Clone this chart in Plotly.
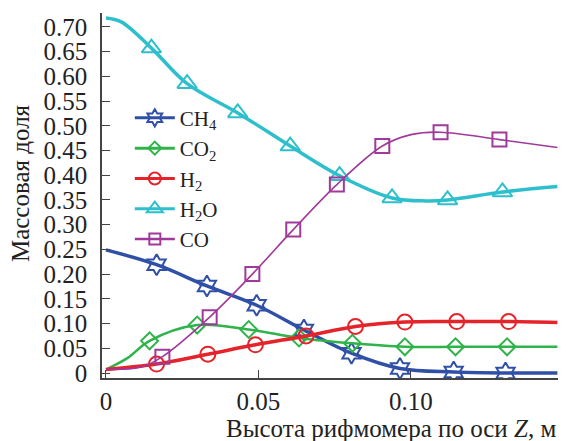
import plotly.graph_objects as go

# ---- data ----
names = ["CH<sub>4</sub>", "CO<sub>2</sub>", "H<sub>2</sub>", "H<sub>2</sub>O", "CO"]

ch4_x = [0, 0.0166, 0.0331, 0.0494, 0.0649, 0.0805, 0.0964, 0.114, 0.131, 0.148]
ch4_y = [0.249, 0.219, 0.176, 0.137, 0.087, 0.040, 0.009, 0.002, 0.0, 0.0]
ch4_mx = [0.0166, 0.0331, 0.0494, 0.0649, 0.0805, 0.0964, 0.114, 0.131]
ch4_my = [0.219, 0.176, 0.137, 0.087, 0.040, 0.009, 0.002, 0.0]

co2_x = [0, 0.007, 0.0143, 0.0299, 0.0468, 0.0633, 0.0808, 0.098, 0.1146, 0.1315, 0.148]
co2_y = [0.007, 0.030, 0.065, 0.097, 0.088, 0.071, 0.060, 0.053, 0.053, 0.053, 0.053]
co2_mx = [0.0143, 0.0299, 0.0468, 0.0633, 0.0808, 0.098, 0.1146, 0.1315]
co2_my = [0.065, 0.097, 0.088, 0.071, 0.060, 0.053, 0.053, 0.053]

h2_x = [0, 0.0166, 0.0334, 0.049, 0.0656, 0.0818, 0.098, 0.115, 0.132, 0.148]
h2_y = [0.007, 0.018, 0.038, 0.057, 0.075, 0.094, 0.103, 0.104, 0.104, 0.102]
h2_mx = [0.0166, 0.0334, 0.049, 0.0656, 0.0818, 0.098, 0.115, 0.132]
h2_my = [0.018, 0.038, 0.057, 0.075, 0.094, 0.103, 0.104, 0.104]

h2o_x = [0, 0.005, 0.0149, 0.0266, 0.0432, 0.0604, 0.0766, 0.0938, 0.105, 0.112, 0.130, 0.148]
h2o_y = [0.718, 0.710, 0.657, 0.585, 0.526, 0.459, 0.399, 0.354, 0.348, 0.350, 0.366, 0.377]
h2o_mx = [0.0149, 0.0266, 0.0432, 0.0604, 0.0766, 0.0938, 0.112, 0.130]
h2o_my = [0.657, 0.585, 0.526, 0.459, 0.399, 0.354, 0.350, 0.366]

co_x = [0, 0.0117, 0.0185, 0.034, 0.048, 0.0614, 0.0757, 0.0906, 0.1, 0.1097, 0.129, 0.148]
co_y = [0.007, 0.012, 0.033, 0.113, 0.200, 0.290, 0.381, 0.459, 0.482, 0.487, 0.472, 0.456]
co_mx = [0.0185, 0.034, 0.048, 0.0614, 0.0757, 0.0906, 0.1097, 0.129]
co_my = [0.033, 0.113, 0.200, 0.290, 0.381, 0.459, 0.487, 0.472]

y_ticks = [0, 0.05, 0.10, 0.15, 0.20, 0.25, 0.30, 0.35, 0.40, 0.45, 0.50, 0.55, 0.60, 0.65, 0.70]
y_labels = ["0", "0.05", "0.10", "0.15", "0.20", "0.25", "0.30", "0.35", "0.40",
            "0.45", "0.50", "0.55", "0.60", "0.65", "0.70"]
x_ticks = [0, 0.05, 0.10]
x_labels = ["0", "0.05", "0.10"]

x_title = "Высота рифмомера по оси <i>Z</i>, м"
y_title = "Массовая доля"

# ---- styles ----
FONT = "Liberation Serif, Times New Roman, serif"
series = [
    (names[0], ch4_x, ch4_y, ch4_mx, ch4_my, "#3050a8", 3.5, "hexagram-open", 16),
    (names[1], co2_x, co2_y, co2_mx, co2_my, "#2fb34a", 2.5, "diamond-open", 13),
    (names[2], h2_x, h2_y, h2_mx, h2_my, "#e4232a", 3.5, "circle-open", 15),
    (names[3], h2o_x, h2o_y, h2o_mx, h2o_my, "#2ebfcc", 3.5, "triangle-up-open", 17),
    (names[4], co_x, co_y, co_mx, co_my, "#a0399a", 1.6, "square-open", 14),
]

fig = go.Figure()
for i, (nm, lx, ly, mx, my, col, lw, sym, ms) in enumerate(series):
    grp = "g%d" % i
    fig.add_trace(go.Scatter(x=lx, y=ly, mode="lines", line=dict(color=col, width=lw, shape="spline", smoothing=1.0),
                             showlegend=False, legendgroup=grp, hoverinfo="skip"))
    fig.add_trace(go.Scatter(x=mx, y=my, mode="markers",
                             marker=dict(symbol=sym, size=ms, color=col, line=dict(color=col, width=2)),
                             showlegend=False, legendgroup=grp))
    fig.add_trace(go.Scatter(x=[None], y=[None], mode="lines+markers", name=nm, legendgroup=grp,
                             line=dict(color=col, width=3 if lw > 2 else 2.5),
                             marker=dict(symbol=sym, size=ms - 3, color=col, line=dict(color=col, width=2))))

axis_common = dict(showline=True, linecolor="#444", linewidth=1.5, ticks="inside", ticklen=8,
                   tickcolor="#444", tickwidth=1.2, showgrid=False, zeroline=False, automargin=False,
                   tickfont=dict(family=FONT, size=25, color="#222"))

# page has an 8px body margin, so the figure is offset by 8px
fig.update_layout(
    width=550, height=433,
    margin=dict(l=94, r=0, t=5, b=63),
    paper_bgcolor="white", plot_bgcolor="white",
    font=dict(family=FONT, color="#222"),
    xaxis=dict(range=[-0.0013, 0.1482], tickvals=x_ticks, ticktext=x_labels, ticklabelstandoff=0, **axis_common),
    yaxis=dict(range=[-0.0101, 0.728], tickvals=y_ticks, ticktext=y_labels, ticklabelstandoff=8, **axis_common),
    legend=dict(x=0.061, y=0.768, xanchor="left", yanchor="top", bgcolor="rgba(0,0,0,0)",
                font=dict(family=FONT, size=21, color="#222"), tracegroupgap=0, itemwidth=40),
    annotations=[
        dict(text=x_title, xref="paper", yref="paper", x=1, y=0, xanchor="right", yanchor="top",
             yshift=-35, showarrow=False, font=dict(family=FONT, size=25, color="#222")),
        dict(text=y_title, xref="paper", yref="paper", x=0, y=0.534, xanchor="center", yanchor="middle",
             xshift=-82, textangle=-90, showarrow=False, font=dict(family=FONT, size=25, color="#222")),
    ],
)

fig.write_html("out.html")
